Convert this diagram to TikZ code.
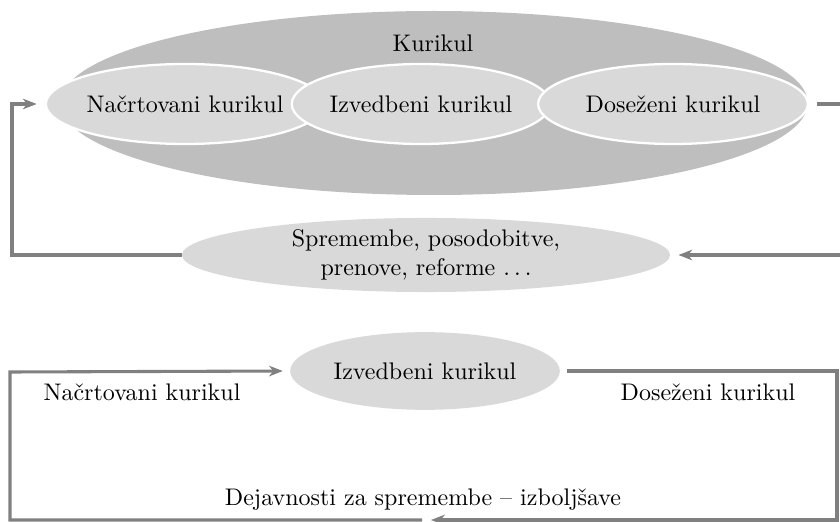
\documentclass[tikz,border=0pt]{standalone}
\usepackage{fontspec}
\usepackage{tikz}
\usetikzlibrary{arrows.meta,shapes.geometric}
\definecolor{ringgray}{gray}{0.745}
\definecolor{blobgray}{gray}{0.85}
\definecolor{linegray}{gray}{0.5}

\begin{document}
\begin{tikzpicture}[x=0.4375pt,y=-0.4375pt,>={Stealth[length=6pt,width=4.6pt,inset=1.8pt]},
  every node/.style={font=\fontsize{10.5}{12.4}\selectfont},
  blob/.style={ellipse,fill=blobgray,inner sep=0pt,minimum height=35pt,align=center},
  ring/.style={blob,draw=white,line width=1pt},
  flow/.style={draw=linegray,line width=1.35pt}]
  \useasboundingbox (0,0) rectangle (840,522);

  % Curriculum and its three parts
  \node[ellipse,fill=ringgray,minimum width=327pt,minimum height=80.5pt] (cur) at (434,103) {};
  \node (curlbl) at (433,43) {Kurikul};
  \node[ring,minimum width=120pt] (plan) at (185,104) {Načrtovani kurikul};
  \node[ring,minimum width=113pt] (izv) at (421,104) {Izvedbeni kurikul};
  \node[ring,minimum width=118pt] (dos) at (673,104) {Doseženi kurikul};

  % Changes
  \node[blob,minimum width=213.5pt,minimum height=32.4pt] (spr) at (426,255)
    {Spremembe, posodobitve,\\prenove, reforme .\,.\,.};

  % Upper loop (runs out past the right edge)
  \coordinate (rtop) at (852,104);
  \coordinate (lcorner) at (12,104);
  \draw[flow,->,shorten <=3.5pt,shorten >=3.5pt] (dos.east) -- (rtop) |- (spr.east);
  \draw[flow,->,shorten >=3.5pt] (spr.west) -| (lcorner) -- (plan.west);

  % Lower cycle
  \node[blob,minimum width=118pt,minimum height=34pt] (izvb) at (425,371) {Izvedbeni kurikul};
  \node (planlbl) at (142,392) {Načrtovani kurikul};
  \node (doslbl) at (708,392) {Doseženi kurikul};
  \node (dejlbl) at (423,500) {Dejavnosti za spremembe – izboljšave};

  \coordinate (br) at (837,520);
  \coordinate (gapr) at (431,520);
  \coordinate (gapl) at (422,520);
  \coordinate (tl) at (10,372);
  \draw[flow,->,shorten <=3pt] (izvb.east) -| (br) -- (gapr);
  \draw[flow,->,shorten >=3pt] (gapl) -| (tl) -- (izvb.west);
\end{tikzpicture}
\end{document}
